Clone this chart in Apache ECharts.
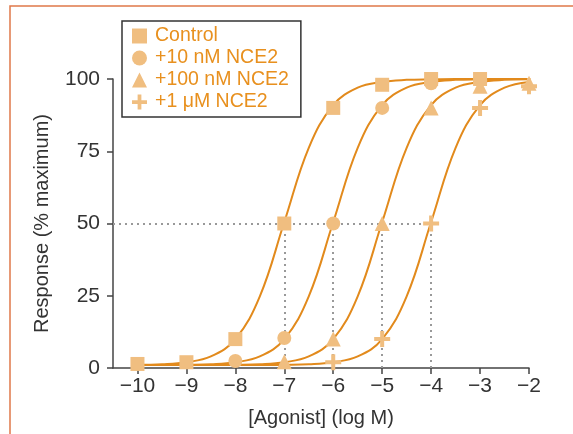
<!DOCTYPE html>
<html>
<head>
<meta charset="utf-8">
<script src="https://cdn.jsdelivr.net/npm/echarts@6/dist/echarts.min.js"></script>
<style>
  html, body { margin: 0; padding: 0; background: #fff; }
  #chart { width: 573px; height: 434px; }
</style>
</head>
<body>
<div id="chart"></div>
<script>
// x 刻度与曲线采样点
const xTicks = [-10, -9, -8, -7, -6, -5, -4, -3, -2];
const curveX = [-10, -9.5, -9, -8.5, -8, -7.5, -7, -6.5, -6, -5.5, -5, -4.5, -4, -3.5, -3, -2.5, -2];
const yTicks = [0, 25, 50, 75, 100];

// 拟合曲线
const controlCurve = [1.1, 1.3, 2.0, 4.0, 10, 24.8, 50.5, 76.2, 91, 97, 99, 99.7, 99.9, 100, 100, 100, 100];
const nce10Curve = [1.0, 1.0, 1.1, 1.3, 2.0, 4.0, 10, 24.8, 50.5, 76.2, 91, 97, 99, 99.7, 99.9, 100, 100];
const nce100Curve = [1.0, 1.0, 1.0, 1.0, 1.1, 1.3, 2.0, 4.0, 10, 24.8, 50.5, 76.2, 91, 97, 99, 99.7, 99.9];
const nce1uCurve = [1.0, 1.0, 1.0, 1.0, 1.0, 1.0, 1.1, 1.3, 2.0, 4.0, 10, 24.8, 50.5, 76.2, 91, 97, 99];

// 实验数据点
const controlX = [-10, -9, -8, -7, -6, -5, -4, -3];
const controlY = [1.4, 2, 10, 50, 90, 98, 100, 100];
const nce10X = [-8, -7, -6, -5, -4, -3, -2];
const nce10Y = [2.4, 10.4, 50, 90, 98.5, 100, 100.5];
const nce100X = [-7, -6, -5, -4, -3, -2];
const nce100Y = [2.2, 10, 50, 90, 97.5, 98.5];
const nce1uX = [-6, -5, -4, -3, -2];
const nce1uY = [2, 10, 50, 90, 97.5];

// EC50 位置
const ec50 = [-7, -6, -5, -4];

const names = ['Control', '+10 nM NCE2', '+100 nM NCE2', '+1 \u03bcM NCE2'];

const LINE_COLOR = '#E28A1C';
const MARK_COLOR = '#F0BE80';
const TEXT_COLOR = '#333333';
const FONT = 'Liberation Sans';
const PLUS = 'path://M6,0h4v6h6v4h-6v6h-4v-6h-6v-4h6z';

function zip(xs, ys) {
  return xs.map(function(x, i) { return [x, ys[i]]; });
}

let chart = echarts.init(document.getElementById('chart'));

let refLines = [[{ coord: [-10.5, 50] }, { coord: [ec50[ec50.length - 1], 50] }]];
ec50.forEach(function(e) {
  refLines.push([{ coord: [e, 0] }, { coord: [e, 50] }]);
});

function curveSeries(ys, extra) {
  let s = {
    name: 'curve',
    type: 'line',
    data: zip(curveX, ys),
    smooth: 0.4,
    showSymbol: false,
    symbol: 'none',
    silent: true,
    z: 3,
    lineStyle: { color: LINE_COLOR, width: 2 }
  };
  return Object.assign(s, extra || {});
}

function pointSeries(name, xs, ys, symbol, size) {
  return {
    name: name,
    type: 'scatter',
    data: zip(xs, ys),
    symbol: symbol,
    symbolSize: size,
    z: 4,
    itemStyle: { color: MARK_COLOR, opacity: 1 }
  };
}

let option = {
  animation: false,
  textStyle: { fontFamily: FONT },
  graphic: [{
    type: 'rect',
    shape: { x: 10, y: 6, width: 700, height: 600 },
    style: { fill: 'none', stroke: '#E0784A', lineWidth: 1.5 },
    silent: true
  }],
  legend: {
    orient: 'vertical',
    left: 122,
    top: 21,
    padding: [5, 12, 5, 10],
    itemGap: 2,
    itemWidth: 15,
    itemHeight: 15,
    backgroundColor: '#fff',
    borderColor: '#333',
    borderWidth: 1.5,
    borderRadius: 0,
    textStyle: { color: '#E8901E', fontSize: 19.5, fontFamily: FONT, padding: [0, 0, 0, 3] },
    data: [
      { name: names[0], icon: 'rect' },
      { name: names[1], icon: 'circle' },
      { name: names[2], icon: 'triangle' },
      { name: names[3], icon: PLUS }
    ],
    z: 10
  },
  grid: { left: 113, right: 44, top: 79, bottom: 66 },
  xAxis: {
    type: 'value',
    min: -10.5,
    max: -2,
    name: '[Agonist] (log M)',
    nameLocation: 'middle',
    nameGap: 40,
    nameTextStyle: { color: TEXT_COLOR, fontSize: 20, fontFamily: FONT },
    axisLine: { lineStyle: { color: '#444', width: 1.5 } },
    axisTick: { show: true, length: 6, customValues: xTicks, lineStyle: { color: '#444', width: 1.5 } },
    axisLabel: {
      customValues: xTicks,
      color: TEXT_COLOR,
      fontSize: 21,
      margin: 8,
      formatter: function(v) { return v < 0 ? '\u2212' + Math.abs(v) : String(v); }
    },
    splitLine: { show: false }
  },
  yAxis: {
    type: 'value',
    min: 0,
    max: 100,
    interval: 25,
    name: 'Response (% maximum)',
    nameLocation: 'middle',
    nameGap: 61,
    nameTextStyle: { color: TEXT_COLOR, fontSize: 20, fontFamily: FONT },
    axisLine: { show: true, lineStyle: { color: '#444', width: 1.5 } },
    axisTick: { show: true, length: 6, lineStyle: { color: '#444', width: 1.5 } },
    axisLabel: { color: TEXT_COLOR, fontSize: 21, margin: 13 },
    splitLine: { show: false }
  },
  series: [
    curveSeries(controlCurve, {
      markLine: {
        silent: true,
        symbol: 'none',
        label: { show: false },
        lineStyle: { color: '#999', type: [2, 4], width: 2 },
        data: refLines,
        z: 1
      }
    }),
    curveSeries(nce10Curve),
    curveSeries(nce100Curve),
    curveSeries(nce1uCurve),
    pointSeries(names[0], controlX, controlY, 'rect', 14),
    pointSeries(names[1], nce10X, nce10Y, 'circle', 14),
    pointSeries(names[2], nce100X, nce100Y, 'triangle', 15),
    pointSeries(names[3], nce1uX, nce1uY, PLUS, 16)
  ]
};

if (option && typeof option === 'object') {
  chart.setOption(option);
}
</script>
</body>
</html>
